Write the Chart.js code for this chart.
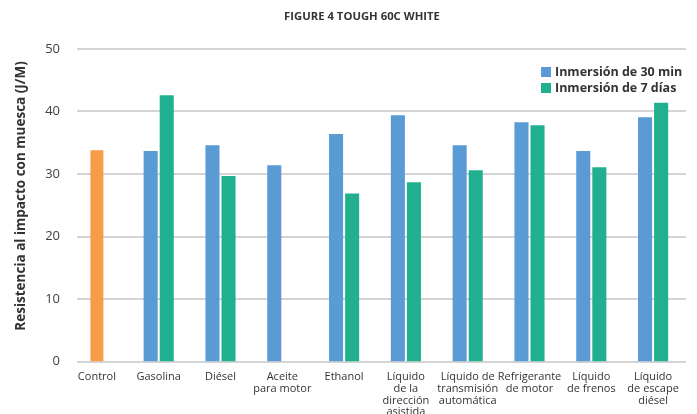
<!DOCTYPE html>
<html>
<head>
<meta charset="utf-8">
<script src="https://cdn.jsdelivr.net/npm/chart.js@4.4.1/dist/chart.umd.min.js"></script>
<style>
  html, body { margin: 0; padding: 0; background: #ffffff; }
  #wrap { width: 697px; height: 414px; position: relative; }
</style>
</head>
<body>
<div id="wrap"><canvas id="chart"></canvas></div>
<script>
// Figure 4 - Tough 60C White: notched impact strength after immersion

const categories = [
    'Control',
    'Gasolina',
    'Diésel',
    ['Aceite', 'para motor'],
    'Ethanol',
    ['Líquido', 'de la', 'dirección', 'asistida'],
    ['Líquido de', 'transmisión', 'automática'],
    ['Refrigerante', 'de motor'],
    ['Líquido', 'de frenos'],
    ['Líquido', 'de escape', 'diésel']
];

// Control reference (no immersion)
const controlValues = [33.8, null, null, null, null, null, null, null, null, null];

// 30 minute immersion
const inm30Values = [null, 33.7, 34.6, 31.4, 36.4, 39.4, 34.6, 38.3, 33.7, 39.1];

// 7 day immersion
const inm7Values = [null, 42.6, 29.7, null, 26.9, 28.7, 30.6, 37.8, 31.1, 41.4];

const yTicks = [0, 10, 20, 30, 40, 50];

const TITLE = 'FIGURE 4 TOUGH 60C WHITE';
const Y_TITLE = 'Resistencia al impacto con muesca (J/M)';

const FONT = "'Open Sans', 'DejaVu Sans', sans-serif";
const TEXT_COLOR = '#333333';

// Horizontal gridlines start a little right of the plot edge, like the original
const insetGrid = {
    id: 'insetGrid',
    beforeDatasetsDraw(chart) {
        const ctx = chart.ctx;
        const area = chart.chartArea;
        const yScale = chart.scales.y;
        ctx.save();
        ctx.strokeStyle = '#d4d4d4';
        ctx.lineWidth = 2;
        yScale.ticks.forEach(t => {
            const y = Math.round(yScale.getPixelForValue(t.value));
            ctx.beginPath();
            ctx.moveTo(area.left + 11, y);
            ctx.lineTo(area.right + 2, y);
            ctx.stroke();
        });
        ctx.restore();
    }
};

// Title, y title and legend are placed by hand to sit where the original puts them
const annotations = {
    id: 'annotations',
    afterDraw(chart) {
        const ctx = chart.ctx;
        ctx.save();

        ctx.fillStyle = TEXT_COLOR;
        ctx.textAlign = 'center';
        ctx.textBaseline = 'middle';
        ctx.font = "bold 11.3px " + FONT;
        ctx.fillText(TITLE, 362, 16.5);

        ctx.save();
        ctx.translate(21, 196);
        ctx.rotate(-Math.PI / 2);
        ctx.font = "bold 13.5px " + FONT;
        ctx.fillText(Y_TITLE, 0, 0);
        ctx.restore();

        const items = chart.data.datasets.filter(ds => ds.showInLegend);
        ctx.font = "bold 12.5px " + FONT;
        ctx.textAlign = 'left';
        items.forEach((ds, i) => {
            const y = 72 + i * 16;
            ctx.fillStyle = ds.backgroundColor;
            ctx.fillRect(541, y - 5, 10, 10);
            ctx.fillStyle = TEXT_COLOR;
            ctx.fillText(ds.label, 555, y + 0.5);
        });
        ctx.restore();
    }
};

function initChart() {
    const ctx = document.getElementById('chart').getContext('2d');

    new Chart(ctx, {
        type: 'bar',
        data: {
            labels: categories,
            datasets: [
                {
                    label: 'Inmersión de 30 min',
                    data: inm30Values,
                    backgroundColor: '#5B9BD5',
                    showInLegend: true,
                    categoryPercentage: 0.52,
                    barPercentage: 0.875
                },
                {
                    label: 'Inmersión de 7 días',
                    data: inm7Values,
                    backgroundColor: '#20B08F',
                    showInLegend: true,
                    categoryPercentage: 0.52,
                    barPercentage: 0.875
                },
                {
                    label: 'Control',
                    data: controlValues,
                    backgroundColor: '#F79D47',
                    showInLegend: false,
                    grouped: false,
                    maxBarThickness: 13,
                    categoryPercentage: 0.52,
                    barPercentage: 0.875
                }
            ]
        },
        options: {
            responsive: true,
            maintainAspectRatio: false,
            animation: false,
            layout: {
                padding: { left: 0, right: 13, top: 49, bottom: 0 }
            },
            plugins: {
                legend: { display: false },
                tooltip: { enabled: false },
                title: { display: false }
            },
            scales: {
                x: {
                    grid: { display: false, drawTicks: false },
                    border: { display: false },
                    ticks: {
                        color: TEXT_COLOR,
                        padding: 10,
                        maxRotation: 0,
                        autoSkip: false,
                        font: { family: FONT, size: 11, lineHeight: 1.05 }
                    },
                    afterFit(scale) { scale.height = 52.5; }
                },
                y: {
                    min: 0,
                    max: 50,
                    afterBuildTicks(scale) {
                        scale.ticks = yTicks.map(v => ({ value: v }));
                    },
                    grid: { display: false, drawTicks: false },
                    border: { display: false },
                    ticks: {
                        color: '#404040',
                        padding: 6,
                        font: { family: FONT, size: 13 }
                    },
                    afterFit(scale) { scale.width = 66; }
                }
            }
        },
        plugins: [insetGrid, annotations]
    });
}

document.addEventListener('DOMContentLoaded', initChart);
</script>
</body>
</html>
